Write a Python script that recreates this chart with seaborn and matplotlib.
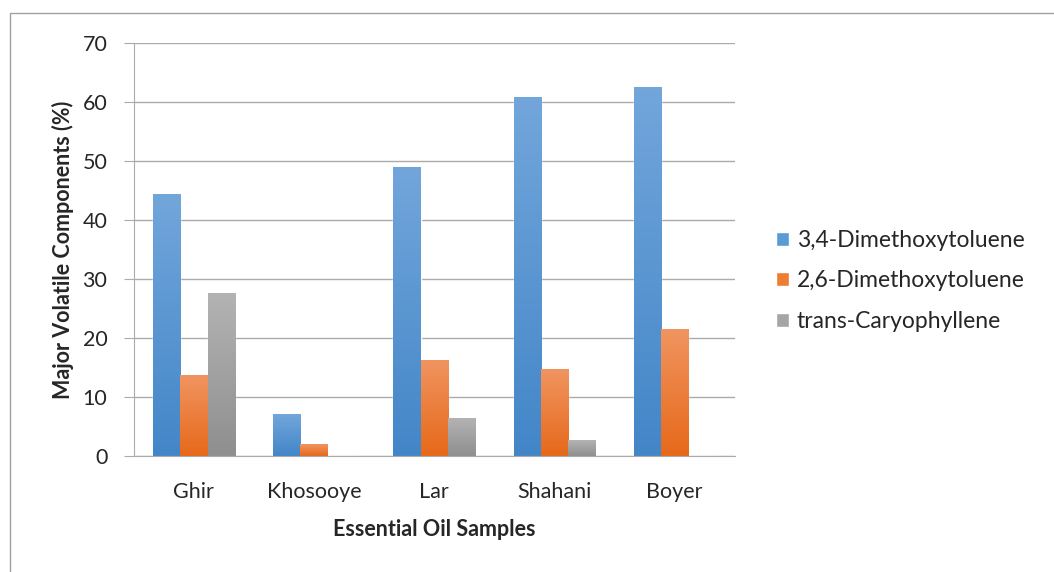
import matplotlib
matplotlib.use("Agg")
import matplotlib.pyplot as plt
import matplotlib.patches as mpatches
from matplotlib.colors import LinearSegmentedColormap
import numpy as np
import pandas as pd
import seaborn as sns

samples = ["Ghir", "Khosooye", "Lar", "Shahani", "Boyer"]
series_names = ["3,4-Dimethoxytoluene", "2,6-Dimethoxytoluene", "trans-Caryophyllene"]
dimethoxy_34 = [44.4, 7.1, 49.0, 60.8, 62.5]
dimethoxy_26 = [13.7, 2.0, 16.3, 14.7, 21.5]
caryophyllene = [27.6, 0.0, 6.4, 2.7, 0.0]
yticks = [0, 10, 20, 30, 40, 50, 60, 70]

base_colors = ["#5B9BD5", "#ED7D31", "#A5A5A5"]
grad_colors = [("#4386C8", "#72A6DB"), ("#E6691A", "#F19460"), ("#8F8F8F", "#B3B3B3")]

df = pd.DataFrame({
    "Sample": samples * 3,
    "Component": [n for n in series_names for _ in samples],
    "Value": dimethoxy_34 + dimethoxy_26 + caryophyllene,
})

sns.set_style("white")
plt.rcParams["font.family"] = ["Lato", "DejaVu Sans"]

fig = plt.figure(figsize=(10.54, 5.72), dpi=100)
ax = fig.add_axes([0.127, 0.203, 0.570, 0.722])

sns.barplot(data=df, x="Sample", y="Value", hue="Component", hue_order=series_names,
            palette=base_colors, width=0.68, ax=ax, legend=True, saturation=1, errorbar=None)

# vertical gradient fill, Excel style
for cont, (lo, hi) in zip(ax.containers, grad_colors):
    cmap = LinearSegmentedColormap.from_list("g", [lo, hi])
    for bar in cont:
        h = bar.get_height()
        if h <= 0:
            continue
        x0 = bar.get_x()
        w = bar.get_width()
        img = ax.imshow(np.linspace(0, 1, 100).reshape(-1, 1), cmap=cmap, origin="lower",
                        extent=[x0, x0 + w, 0, h], aspect="auto", zorder=bar.get_zorder() + 0.1)
        img.set_clip_path(bar)

ax.set_xlim(-0.5, 4.5)
ax.set_ylim(0, 70)
ax.set_yticks(yticks)
ax.yaxis.grid(True, color="#ABABAB", linewidth=1.0)
ax.set_axisbelow(True)
for s in ["top", "right"]:
    ax.spines[s].set_visible(False)
ax.spines["left"].set_color("#ABABAB")
ax.spines["bottom"].set_color("#ABABAB")

ax.set_xticks(np.arange(-0.5, 5, 1), minor=True)
ax.tick_params(axis="x", which="major", length=0, labelsize=15.5, pad=19)
ax.tick_params(axis="x", which="minor", length=7, color="#ABABAB", direction="out")
ax.tick_params(axis="y", length=7, color="#ABABAB", labelsize=15.5, left=True, pad=12)
ax.set_xlabel("Essential Oil Samples", fontsize=15.5, fontweight="bold", labelpad=12)
ax.set_ylabel("Major Volatile Components (%)", fontsize=15.5, fontweight="bold", labelpad=6)

handles, labels = ax.get_legend_handles_labels()
ax.legend(handles, labels, loc="center left", bbox_to_anchor=(1.035, 0.424), frameon=False,
          fontsize=16.5, handlelength=0.55, handleheight=0.55, labelspacing=0.85, handletextpad=0.35)

# chart area border
fig.patches.append(mpatches.Rectangle((10 / 1054, -0.05), 1.1, 1 - 13 / 572 + 0.05,
                                      transform=fig.transFigure, fill=False,
                                      edgecolor="#A0A0A0", linewidth=1.0))

fig.savefig("out.png", dpi=100)
